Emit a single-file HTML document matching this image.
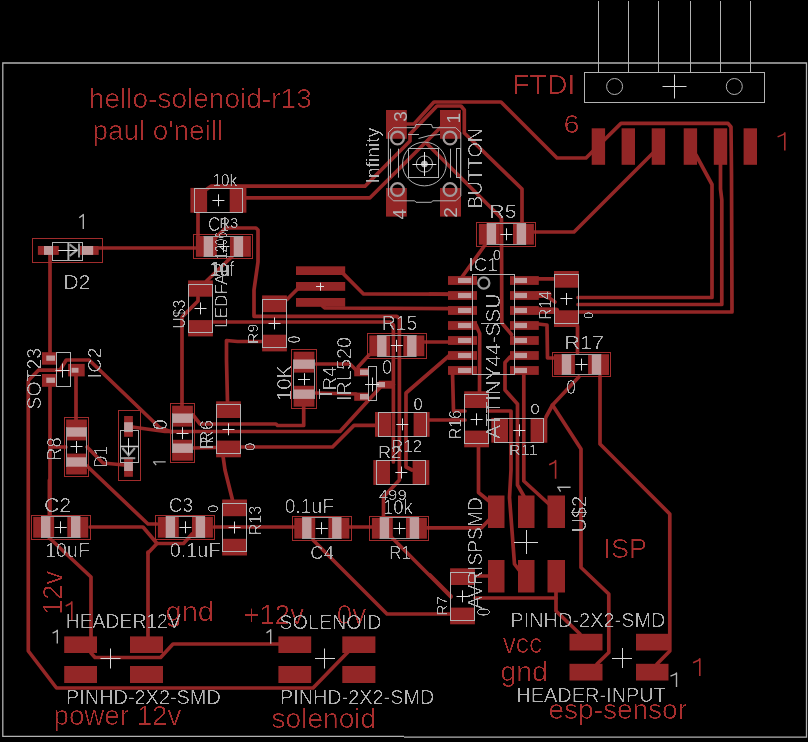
<!DOCTYPE html>
<html><head><meta charset="utf-8"><title>hello-solenoid-r13</title>
<style>
html,body{margin:0;padding:0;background:#000;}
body{width:808px;height:742px;overflow:hidden;}
svg{display:block;}
svg text{font-family:"Liberation Sans",sans-serif;}
</style></head><body>
<svg width="808" height="742" viewBox="0 0 808 742">
<defs>
<filter id="thinR" x="0" y="0" width="808" height="742" filterUnits="userSpaceOnUse" color-interpolation-filters="sRGB"><feGaussianBlur stdDeviation="0.6"/><feComponentTransfer><feFuncA type="linear" slope="5" intercept="-3.4"/></feComponentTransfer></filter>
<filter id="thinG" x="0" y="0" width="808" height="742" filterUnits="userSpaceOnUse" color-interpolation-filters="sRGB"><feGaussianBlur stdDeviation="0.5"/><feComponentTransfer><feFuncA type="linear" slope="5" intercept="-2.9"/></feComponentTransfer></filter>
<filter id="thinS" x="0" y="0" width="808" height="742" filterUnits="userSpaceOnUse" color-interpolation-filters="sRGB"><feGaussianBlur stdDeviation="0.45"/><feComponentTransfer><feFuncA type="linear" slope="4" intercept="-1.9"/></feComponentTransfer></filter>
</defs>
<rect width="808" height="742" fill="#000"/>
<path d="M50.0,250.0 L50.0,352.0" stroke="#932626" stroke-width="3.7" fill="none" stroke-linejoin="round" stroke-linecap="round"/>
<path d="M99.0,248.0 L196.0,248.0" stroke="#932626" stroke-width="3.7" fill="none" stroke-linejoin="round" stroke-linecap="round"/>
<path d="M50.0,387.0 L50.0,518.0" stroke="#932626" stroke-width="3.7" fill="none" stroke-linejoin="round" stroke-linecap="round"/>
<path d="M60.0,370.2 L38.4,370.2 L28.3,380.5 L28.3,651.0 L56.5,688.0 L313.0,688.0 L348.0,652.0" stroke="#932626" stroke-width="3.7" fill="none" stroke-linejoin="round" stroke-linecap="round"/>
<path d="M60.0,370.2 L66.2,360.0 L89.2,360.0 L160.0,428.0 L172.0,432.0" stroke="#932626" stroke-width="3.7" fill="none" stroke-linejoin="round" stroke-linecap="round"/>
<path d="M76.0,376.0 L76.0,420.0" stroke="#932626" stroke-width="3.7" fill="none" stroke-linejoin="round" stroke-linecap="round"/>
<path d="M50.0,447.0 L66.0,447.0" stroke="#932626" stroke-width="3.7" fill="none" stroke-linejoin="round" stroke-linecap="round"/>
<path d="M87.0,447.0 L103.0,463.0 L124.0,465.0" stroke="#932626" stroke-width="3.7" fill="none" stroke-linejoin="round" stroke-linecap="round"/>
<path d="M87.0,466.0 L148.0,524.0 L157.0,524.0" stroke="#932626" stroke-width="3.7" fill="none" stroke-linejoin="round" stroke-linecap="round"/>
<path d="M132.0,427.0 L165.0,431.5 L340.0,431.5 L380.5,387.0" stroke="#932626" stroke-width="3.7" fill="none" stroke-linejoin="round" stroke-linecap="round"/>
<path d="M198.0,297.0 L198.0,301.0 L182.0,317.0 L182.0,406.0" stroke="#932626" stroke-width="3.7" fill="none" stroke-linejoin="round" stroke-linecap="round"/>
<path d="M198.0,212.0 L198.0,236.0" stroke="#932626" stroke-width="3.7" fill="none" stroke-linejoin="round" stroke-linecap="round"/>
<path d="M216.5,237.0 L225.5,228.0 L256.0,228.0 L258.0,230.0 L258.0,262.0 L254.0,290.0 L254.0,316.3 L396.8,316.3 L399.4,319.0 L399.4,480.0 L383.5,497.0 L383.5,518.0" stroke="#932626" stroke-width="3.7" fill="none" stroke-linejoin="round" stroke-linecap="round"/>
<path d="M232.0,256.5 L206.5,281.0" stroke="#932626" stroke-width="3.7" fill="none" stroke-linejoin="round" stroke-linecap="round"/>
<path d="M213.0,322.0 L390.5,322.0 L393.4,325.0 L393.4,462.0" stroke="#932626" stroke-width="3.7" fill="none" stroke-linejoin="round" stroke-linecap="round"/>
<path d="M262.0,341.5 L237.5,341.5 L226.5,340.5 L226.5,360.0 L227.5,402.0" stroke="#932626" stroke-width="3.7" fill="none" stroke-linejoin="round" stroke-linecap="round"/>
<path d="M342.0,272.4 L363.5,294.0 L452.0,294.2" stroke="#932626" stroke-width="3.7" fill="none" stroke-linejoin="round" stroke-linecap="round"/>
<path d="M299.0,287.5 L287.0,299.5" stroke="#932626" stroke-width="3.7" fill="none" stroke-linejoin="round" stroke-linecap="round"/>
<path d="M322.5,306.0 L325.0,308.0 L452.0,308.6" stroke="#932626" stroke-width="3.7" fill="none" stroke-linejoin="round" stroke-linecap="round"/>
<path d="M316.0,364.0 L350.0,364.0 L356.0,370.0" stroke="#932626" stroke-width="3.7" fill="none" stroke-linejoin="round" stroke-linecap="round"/>
<path d="M316.0,393.0 L356.0,394.0" stroke="#932626" stroke-width="3.7" fill="none" stroke-linejoin="round" stroke-linecap="round"/>
<path d="M303.7,406.0 L303.7,425.5 L277.5,425.5 L276.0,424.0 L200.0,424.0 L193.0,415.0" stroke="#932626" stroke-width="3.7" fill="none" stroke-linejoin="round" stroke-linecap="round"/>
<path d="M193.0,448.0 L217.0,447.5" stroke="#932626" stroke-width="3.7" fill="none" stroke-linejoin="round" stroke-linecap="round"/>
<path d="M241.0,447.0 L332.5,447.0 L354.0,425.4 L376.0,425.4" stroke="#932626" stroke-width="3.7" fill="none" stroke-linejoin="round" stroke-linecap="round"/>
<path d="M223.0,456.0 L225.0,470.0 L232.5,500.0" stroke="#932626" stroke-width="3.7" fill="none" stroke-linejoin="round" stroke-linecap="round"/>
<path d="M358.0,367.0 L369.0,355.0" stroke="#932626" stroke-width="3.7" fill="none" stroke-linejoin="round" stroke-linecap="round"/>
<path d="M385.0,384.5 L393.4,384.5" stroke="#932626" stroke-width="3.7" fill="none" stroke-linejoin="round" stroke-linecap="round"/>
<path d="M450.0,355.0 L406.0,393.0 L406.0,467.0 L412.0,470.0" stroke="#932626" stroke-width="3.7" fill="none" stroke-linejoin="round" stroke-linecap="round"/>
<path d="M424.0,342.0 L452.0,342.0" stroke="#932626" stroke-width="3.7" fill="none" stroke-linejoin="round" stroke-linecap="round"/>
<path d="M428.0,420.0 L465.0,420.0" stroke="#932626" stroke-width="3.7" fill="none" stroke-linejoin="round" stroke-linecap="round"/>
<path d="M90.0,527.0 L143.0,527.0 L157.0,543.5 L183.5,543.5 L192.0,534.0" stroke="#932626" stroke-width="3.7" fill="none" stroke-linejoin="round" stroke-linecap="round"/>
<path d="M148.0,552.0 L148.0,640.0" stroke="#932626" stroke-width="3.7" fill="none" stroke-linejoin="round" stroke-linecap="round"/>
<path d="M157.0,543.5 L148.0,553.0" stroke="#932626" stroke-width="3.7" fill="none" stroke-linejoin="round" stroke-linecap="round"/>
<path d="M214.0,527.0 L295.0,527.0" stroke="#932626" stroke-width="3.7" fill="none" stroke-linejoin="round" stroke-linecap="round"/>
<path d="M349.0,527.0 L372.0,527.0" stroke="#932626" stroke-width="3.7" fill="none" stroke-linejoin="round" stroke-linecap="round"/>
<path d="M427.0,527.8 L481.5,527.8 L489.0,520.0" stroke="#932626" stroke-width="3.7" fill="none" stroke-linejoin="round" stroke-linecap="round"/>
<path d="M313.0,540.0 L387.0,614.0 L451.0,614.0" stroke="#932626" stroke-width="3.7" fill="none" stroke-linejoin="round" stroke-linecap="round"/>
<path d="M392.3,538.0 L451.0,597.0" stroke="#932626" stroke-width="3.7" fill="none" stroke-linejoin="round" stroke-linecap="round"/>
<path d="M49.4,480.0 L49.4,518.0" stroke="#932626" stroke-width="3.7" fill="none" stroke-linejoin="round" stroke-linecap="round"/>
<path d="M49.4,538.0 L91.0,577.0 L91.0,653.0 L95.0,657.5 L160.6,657.5 L173.0,644.0 L279.0,644.0" stroke="#932626" stroke-width="3.7" fill="none" stroke-linejoin="round" stroke-linecap="round"/>
<path d="M407.0,124.0 L414.0,124.0 L434.0,102.0 L501.0,102.0 L557.0,158.0 L586.0,158.0 L621.0,123.4 L728.0,123.4 L731.0,127.0 L731.5,175.0 L732.0,312.0 L578.0,312.0" stroke="#932626" stroke-width="3.7" fill="none" stroke-linejoin="round" stroke-linecap="round"/>
<path d="M207.0,189.0 L211.0,186.2 L365.0,186.2 L410.0,141.0 L410.0,134.0 L437.0,106.0 L461.0,106.0 L464.3,110.0 L464.3,133.0 L522.0,189.0 L522.0,225.0" stroke="#932626" stroke-width="3.7" fill="none" stroke-linejoin="round" stroke-linecap="round"/>
<path d="M246.0,197.8 L370.0,197.8 L440.0,128.0" stroke="#932626" stroke-width="3.7" fill="none" stroke-linejoin="round" stroke-linecap="round"/>
<path d="M425.7,142.5 L501.5,218.3 L501.8,323.0 L511.5,334.5" stroke="#932626" stroke-width="3.7" fill="none" stroke-linejoin="round" stroke-linecap="round"/>
<path d="M485.0,245.0 L462.0,277.0" stroke="#932626" stroke-width="3.7" fill="none" stroke-linejoin="round" stroke-linecap="round"/>
<path d="M532.0,232.0 L574.0,232.0 L653.0,153.0" stroke="#932626" stroke-width="3.7" fill="none" stroke-linejoin="round" stroke-linecap="round"/>
<path d="M696.0,155.0 L712.0,184.5 L712.0,297.5 L578.0,297.5" stroke="#932626" stroke-width="3.7" fill="none" stroke-linejoin="round" stroke-linecap="round"/>
<path d="M720.5,160.0 L720.5,189.0 L721.8,200.0 L721.8,304.5 L578.0,304.5" stroke="#932626" stroke-width="3.7" fill="none" stroke-linejoin="round" stroke-linecap="round"/>
<path d="M538.0,278.8 L556.0,278.8" stroke="#932626" stroke-width="3.7" fill="none" stroke-linejoin="round" stroke-linecap="round"/>
<path d="M538.0,295.0 L545.0,295.0 L555.0,302.0" stroke="#932626" stroke-width="3.7" fill="none" stroke-linejoin="round" stroke-linecap="round"/>
<path d="M538.0,294.6 L548.0,294.6" stroke="#932626" stroke-width="7" fill="none" stroke-linejoin="round" stroke-linecap="round"/>
<path d="M538.0,310.5 L556.0,310.8" stroke="#932626" stroke-width="6.5" fill="none" stroke-linejoin="round" stroke-linecap="round"/>
<path d="M538.0,324.0 L547.0,325.0 L547.5,358.0 L554.0,358.0" stroke="#932626" stroke-width="3.7" fill="none" stroke-linejoin="round" stroke-linecap="round"/>
<path d="M577.5,326.0 L577.5,353.0" stroke="#932626" stroke-width="3.7" fill="none" stroke-linejoin="round" stroke-linecap="round"/>
<path d="M578.8,377.0 L552.5,405.0 L546.0,417.0" stroke="#932626" stroke-width="3.7" fill="none" stroke-linejoin="round" stroke-linecap="round"/>
<path d="M552.5,405.0 L581.0,449.0 L581.0,567.5 L608.8,594.0 L608.8,652.5 L597.0,664.0" stroke="#932626" stroke-width="3.7" fill="none" stroke-linejoin="round" stroke-linecap="round"/>
<path d="M600.0,376.0 L600.0,444.0 L669.8,514.0 L669.8,651.0 L657.0,664.0" stroke="#932626" stroke-width="3.7" fill="none" stroke-linejoin="round" stroke-linecap="round"/>
<path d="M430.0,294.0 L452.0,294.5" stroke="#932626" stroke-width="3.7" fill="none" stroke-linejoin="round" stroke-linecap="round"/>
<path d="M452.5,372.0 L453.5,411.0 L465.0,411.0" stroke="#932626" stroke-width="3.7" fill="none" stroke-linejoin="round" stroke-linecap="round"/>
<path d="M476.0,325.0 L479.7,333.5 L479.5,393.0" stroke="#932626" stroke-width="3.7" fill="none" stroke-linejoin="round" stroke-linecap="round"/>
<path d="M510.0,357.0 L505.0,362.5 L505.0,390.0 L517.5,404.0 L517.5,485.0 L523.8,496.0" stroke="#932626" stroke-width="3.7" fill="none" stroke-linejoin="round" stroke-linecap="round"/>
<path d="M523.8,372.0 L523.8,481.0 L550.0,505.0" stroke="#932626" stroke-width="3.7" fill="none" stroke-linejoin="round" stroke-linecap="round"/>
<path d="M489.0,411.0 L511.0,411.0 L511.0,470.0 L509.5,497.5 L514.5,564.0 L519.0,570.0" stroke="#932626" stroke-width="3.7" fill="none" stroke-linejoin="round" stroke-linecap="round"/>
<path d="M478.5,446.0 L478.5,492.5 L489.0,501.0" stroke="#932626" stroke-width="3.7" fill="none" stroke-linejoin="round" stroke-linecap="round"/>
<path d="M475.0,576.0 L489.0,576.0" stroke="#932626" stroke-width="3.7" fill="none" stroke-linejoin="round" stroke-linecap="round"/>
<path d="M475.0,598.0 L556.0,598.0" stroke="#932626" stroke-width="3.7" fill="none" stroke-linejoin="round" stroke-linecap="round"/>
<path d="M556.0,590.0 L556.0,611.0 L580.0,634.0" stroke="#932626" stroke-width="3.7" fill="none" stroke-linejoin="round" stroke-linecap="round"/>
<path d="M430.0,575.0 L451.0,596.0" stroke="#932626" stroke-width="3.7" fill="none" stroke-linejoin="round" stroke-linecap="round"/>
<path d="M404,736.3 L2.8,736.3 L2.8,63 L806.5,63 L806.5,737.1 L404,737.1" fill="none" stroke="#b2b2b2" stroke-width="1.3"/>
<line x1="598.5" y1="1.0" x2="598.5" y2="72.0" stroke="#b2b2b2" stroke-width="1"/>
<rect x="591.7" y="128.3" width="13.4" height="36.5" fill="#932626"/>
<line x1="628.5" y1="1.0" x2="628.5" y2="72.0" stroke="#b2b2b2" stroke-width="1"/>
<rect x="621.6" y="128.3" width="13.4" height="36.5" fill="#932626"/>
<line x1="658.5" y1="1.0" x2="658.5" y2="72.0" stroke="#b2b2b2" stroke-width="1"/>
<rect x="651.7" y="128.3" width="13.4" height="36.5" fill="#932626"/>
<line x1="690.5" y1="1.0" x2="690.5" y2="72.0" stroke="#b2b2b2" stroke-width="1"/>
<rect x="683.7" y="128.3" width="13.4" height="36.5" fill="#932626"/>
<line x1="720.5" y1="1.0" x2="720.5" y2="72.0" stroke="#b2b2b2" stroke-width="1"/>
<rect x="713.8" y="128.3" width="13.4" height="36.5" fill="#932626"/>
<line x1="750.5" y1="1.0" x2="750.5" y2="72.0" stroke="#b2b2b2" stroke-width="1"/>
<rect x="743.6" y="128.3" width="13.4" height="36.5" fill="#932626"/>
<rect x="584.5" y="72.5" width="180.0" height="30.0" fill="none" stroke="#b2b2b2" stroke-width="1"/>
<circle cx="614.6" cy="86.5" r="8.0" fill="none" stroke="#b2b2b2" stroke-width="1"/>
<circle cx="734.3" cy="86.5" r="8.0" fill="none" stroke="#b2b2b2" stroke-width="1"/>
<line x1="662.5" y1="86.5" x2="686.5" y2="86.5" stroke="#d8d8d8" stroke-width="1"/>
<line x1="674.5" y1="74.5" x2="674.5" y2="98.5" stroke="#d8d8d8" stroke-width="1"/>
<rect x="37.9" y="246.0" width="20.9" height="8.9" fill="#932626"/>
<rect x="78.3" y="246.0" width="20.4" height="8.9" fill="#932626"/>
<rect x="44.0" y="246.0" width="8.0" height="8.9" fill="#bf9a9a"/>
<rect x="83.0" y="246.0" width="10.2" height="8.9" fill="#bf9a9a"/>
<rect x="32.5" y="238.5" width="70.0" height="24.0" fill="none" stroke="#a02c2c" stroke-width="1"/>
<rect x="52.5" y="242.5" width="30.0" height="18.0" fill="none" stroke="#b2b2b2" stroke-width="1"/>
<line x1="68.4" y1="242.1" x2="68.4" y2="261.0" stroke="#b2b2b2" stroke-width="2"/>
<path d="M69.6,244.4 L77,250.2 L69.6,256" fill="none" stroke="#9a9a9a" stroke-width="2.2"/>
<line x1="79.0" y1="243.5" x2="79.0" y2="257.5" stroke="#9a9a9a" stroke-width="2"/>
<line x1="58.2" y1="250.5" x2="77.0" y2="250.5" stroke="#e0e0e0" stroke-width="1"/>
<rect x="124.1" y="416.0" width="8.8" height="20.8" fill="#932626"/>
<rect x="124.1" y="457.0" width="8.8" height="19.8" fill="#932626"/>
<rect x="124.1" y="422.2" width="8.8" height="9.9" fill="#bf9a9a"/>
<rect x="124.1" y="462.5" width="8.8" height="8.5" fill="#bf9a9a"/>
<rect x="118.5" y="410.5" width="22.0" height="70.0" fill="none" stroke="#a02c2c" stroke-width="1"/>
<rect x="120.5" y="430.5" width="18.0" height="32.0" fill="none" stroke="#b2b2b2" stroke-width="1"/>
<line x1="120.2" y1="446.5" x2="138.7" y2="446.5" stroke="#c8c8c8" stroke-width="1.6"/>
<path d="M122.4,448 L128.6,455.4 L134.8,448" fill="none" stroke="#9a9a9a" stroke-width="2.2"/>
<line x1="120.8" y1="458.2" x2="135.3" y2="458.2" stroke="#9a9a9a" stroke-width="2"/>
<line x1="128.5" y1="438.2" x2="128.5" y2="454.6" stroke="#e0e0e0" stroke-width="1"/>
<rect x="42.0" y="352.2" width="14.6" height="12.5" fill="#932626"/>
<rect x="42.0" y="374.0" width="14.6" height="12.8" fill="#932626"/>
<rect x="68.1" y="363.9" width="16.6" height="12.5" fill="#932626"/>
<rect x="46.3" y="355.5" width="8.7" height="5.3" fill="#bf9a9a"/>
<rect x="46.3" y="377.6" width="8.7" height="5.3" fill="#bf9a9a"/>
<rect x="71.6" y="367.8" width="6.9" height="4.9" fill="#bf9a9a"/>
<rect x="56.5" y="352.5" width="14.0" height="34.0" fill="none" stroke="#b2b2b2" stroke-width="1"/>
<line x1="55.5" y1="370.5" x2="69.5" y2="370.5" stroke="#e0e0e0" stroke-width="1"/>
<line x1="62.5" y1="363.5" x2="62.5" y2="377.5" stroke="#e0e0e0" stroke-width="1"/>
<rect x="354.2" y="368.0" width="14.0" height="8.3" fill="#932626"/>
<rect x="354.2" y="392.6" width="14.0" height="8.2" fill="#932626"/>
<rect x="378.7" y="380.7" width="13.3" height="8.0" fill="#932626"/>
<rect x="360.0" y="369.5" width="8.0" height="5.5" fill="#bf9a9a"/>
<rect x="360.0" y="394.0" width="8.0" height="5.5" fill="#bf9a9a"/>
<rect x="377.0" y="382.0" width="8.0" height="5.3" fill="#bf9a9a"/>
<rect x="368.5" y="366.5" width="8.0" height="34.0" fill="none" stroke="#b2b2b2" stroke-width="1"/>
<line x1="365.0" y1="384.5" x2="379.0" y2="384.5" stroke="#e0e0e0" stroke-width="1"/>
<line x1="372.5" y1="377.5" x2="372.5" y2="391.5" stroke="#e0e0e0" stroke-width="1"/>
<rect x="66.1" y="419.5" width="20.8" height="20.9" fill="#932626"/>
<rect x="66.1" y="453.6" width="20.8" height="20.9" fill="#932626"/>
<rect x="66.1" y="427.3" width="20.8" height="9.4" fill="#bf9a9a"/>
<rect x="66.1" y="457.3" width="20.8" height="9.4" fill="#bf9a9a"/>
<line x1="66.5" y1="427.3" x2="66.5" y2="466.7" stroke="#9c9c9c" stroke-width="1"/>
<line x1="86.5" y1="427.3" x2="86.5" y2="466.7" stroke="#9c9c9c" stroke-width="1"/>
<rect x="64.5" y="417.5" width="24.0" height="59.0" fill="none" stroke="#a02c2c" stroke-width="1"/>
<line x1="70.5" y1="446.5" x2="82.5" y2="446.5" stroke="#e0e0e0" stroke-width="1"/>
<line x1="76.5" y1="441.0" x2="76.5" y2="453.0" stroke="#e0e0e0" stroke-width="1"/>
<rect x="293.6" y="351.7" width="20.8" height="20.9" fill="#932626"/>
<rect x="293.6" y="385.8" width="20.8" height="20.9" fill="#932626"/>
<rect x="293.6" y="359.5" width="20.8" height="9.4" fill="#bf9a9a"/>
<rect x="293.6" y="389.5" width="20.8" height="9.4" fill="#bf9a9a"/>
<line x1="293.5" y1="359.5" x2="293.5" y2="398.9" stroke="#9c9c9c" stroke-width="1"/>
<line x1="314.5" y1="359.5" x2="314.5" y2="398.9" stroke="#9c9c9c" stroke-width="1"/>
<rect x="291.5" y="349.5" width="25.0" height="59.0" fill="none" stroke="#a02c2c" stroke-width="1"/>
<line x1="298.0" y1="379.5" x2="310.0" y2="379.5" stroke="#e0e0e0" stroke-width="1"/>
<line x1="304.5" y1="373.2" x2="304.5" y2="385.2" stroke="#e0e0e0" stroke-width="1"/>
<rect x="172.1" y="405.7" width="20.8" height="20.9" fill="#932626"/>
<rect x="172.1" y="439.8" width="20.8" height="20.9" fill="#932626"/>
<rect x="172.1" y="413.5" width="20.8" height="9.4" fill="#bf9a9a"/>
<rect x="172.1" y="443.5" width="20.8" height="9.4" fill="#bf9a9a"/>
<line x1="172.5" y1="413.5" x2="172.5" y2="452.9" stroke="#9c9c9c" stroke-width="1"/>
<line x1="192.5" y1="413.5" x2="192.5" y2="452.9" stroke="#9c9c9c" stroke-width="1"/>
<rect x="170.5" y="403.5" width="24.0" height="59.0" fill="none" stroke="#a02c2c" stroke-width="1"/>
<line x1="176.5" y1="433.5" x2="188.5" y2="433.5" stroke="#e0e0e0" stroke-width="1"/>
<line x1="182.5" y1="427.2" x2="182.5" y2="439.2" stroke="#e0e0e0" stroke-width="1"/>
<rect x="478.9" y="223.9" width="20.9" height="20.8" fill="#932626"/>
<rect x="513.0" y="223.9" width="20.9" height="20.8" fill="#932626"/>
<rect x="486.7" y="223.9" width="9.4" height="20.8" fill="#bf9a9a"/>
<rect x="516.7" y="223.9" width="9.4" height="20.8" fill="#bf9a9a"/>
<line x1="486.7" y1="223.5" x2="526.1" y2="223.5" stroke="#9c9c9c" stroke-width="1"/>
<line x1="486.7" y1="244.5" x2="526.1" y2="244.5" stroke="#9c9c9c" stroke-width="1"/>
<rect x="476.5" y="222.5" width="59.0" height="24.0" fill="none" stroke="#a02c2c" stroke-width="1"/>
<line x1="500.4" y1="234.5" x2="512.4" y2="234.5" stroke="#e0e0e0" stroke-width="1"/>
<line x1="506.5" y1="228.3" x2="506.5" y2="240.3" stroke="#e0e0e0" stroke-width="1"/>
<rect x="554.0" y="354.2" width="20.9" height="20.8" fill="#932626"/>
<rect x="588.1" y="354.2" width="20.9" height="20.8" fill="#932626"/>
<rect x="561.8" y="354.2" width="9.4" height="20.8" fill="#bf9a9a"/>
<rect x="591.8" y="354.2" width="9.4" height="20.8" fill="#bf9a9a"/>
<line x1="561.8" y1="354.5" x2="601.2" y2="354.5" stroke="#9c9c9c" stroke-width="1"/>
<line x1="561.8" y1="374.5" x2="601.2" y2="374.5" stroke="#9c9c9c" stroke-width="1"/>
<rect x="552.5" y="352.5" width="58.0" height="24.0" fill="none" stroke="#a02c2c" stroke-width="1"/>
<line x1="575.5" y1="364.5" x2="587.5" y2="364.5" stroke="#e0e0e0" stroke-width="1"/>
<line x1="581.5" y1="358.6" x2="581.5" y2="370.6" stroke="#e0e0e0" stroke-width="1"/>
<rect x="369.3" y="335.4" width="20.9" height="20.8" fill="#932626"/>
<rect x="403.4" y="335.4" width="20.9" height="20.8" fill="#932626"/>
<rect x="377.1" y="335.4" width="9.4" height="20.8" fill="#bf9a9a"/>
<rect x="407.1" y="335.4" width="9.4" height="20.8" fill="#bf9a9a"/>
<line x1="377.1" y1="335.5" x2="416.5" y2="335.5" stroke="#9c9c9c" stroke-width="1"/>
<line x1="377.1" y1="356.5" x2="416.5" y2="356.5" stroke="#9c9c9c" stroke-width="1"/>
<rect x="367.5" y="333.5" width="59.0" height="25.0" fill="none" stroke="#a02c2c" stroke-width="1"/>
<line x1="390.8" y1="345.5" x2="402.8" y2="345.5" stroke="#e0e0e0" stroke-width="1"/>
<line x1="396.5" y1="339.8" x2="396.5" y2="351.8" stroke="#e0e0e0" stroke-width="1"/>
<rect x="195.9" y="236.0" width="20.9" height="20.8" fill="#932626"/>
<rect x="230.0" y="236.0" width="20.9" height="20.8" fill="#932626"/>
<rect x="203.7" y="236.0" width="9.4" height="20.8" fill="#bf9a9a"/>
<rect x="233.7" y="236.0" width="9.4" height="20.8" fill="#bf9a9a"/>
<line x1="203.7" y1="236.5" x2="243.1" y2="236.5" stroke="#9c9c9c" stroke-width="1"/>
<line x1="203.7" y1="256.5" x2="243.1" y2="256.5" stroke="#9c9c9c" stroke-width="1"/>
<rect x="193.5" y="234.5" width="59.0" height="24.0" fill="none" stroke="#a02c2c" stroke-width="1"/>
<line x1="217.4" y1="246.5" x2="229.4" y2="246.5" stroke="#e0e0e0" stroke-width="1"/>
<line x1="223.5" y1="240.4" x2="223.5" y2="252.4" stroke="#e0e0e0" stroke-width="1"/>
<rect x="33.2" y="516.9" width="20.9" height="20.8" fill="#932626"/>
<rect x="67.3" y="516.9" width="20.9" height="20.8" fill="#932626"/>
<rect x="41.0" y="516.9" width="9.4" height="20.8" fill="#bf9a9a"/>
<rect x="71.0" y="516.9" width="9.4" height="20.8" fill="#bf9a9a"/>
<line x1="41.0" y1="516.5" x2="80.4" y2="516.5" stroke="#9c9c9c" stroke-width="1"/>
<line x1="41.0" y1="537.5" x2="80.4" y2="537.5" stroke="#9c9c9c" stroke-width="1"/>
<rect x="31.5" y="515.5" width="59.0" height="24.0" fill="none" stroke="#a02c2c" stroke-width="1"/>
<line x1="54.7" y1="527.5" x2="66.7" y2="527.5" stroke="#e0e0e0" stroke-width="1"/>
<line x1="60.5" y1="521.3" x2="60.5" y2="533.3" stroke="#e0e0e0" stroke-width="1"/>
<rect x="157.9" y="516.9" width="20.9" height="20.8" fill="#932626"/>
<rect x="192.0" y="516.9" width="20.9" height="20.8" fill="#932626"/>
<rect x="165.7" y="516.9" width="9.4" height="20.8" fill="#bf9a9a"/>
<rect x="195.7" y="516.9" width="9.4" height="20.8" fill="#bf9a9a"/>
<line x1="165.7" y1="516.5" x2="205.1" y2="516.5" stroke="#9c9c9c" stroke-width="1"/>
<line x1="165.7" y1="537.5" x2="205.1" y2="537.5" stroke="#9c9c9c" stroke-width="1"/>
<rect x="155.5" y="515.5" width="59.0" height="24.0" fill="none" stroke="#a02c2c" stroke-width="1"/>
<line x1="179.4" y1="527.5" x2="191.4" y2="527.5" stroke="#e0e0e0" stroke-width="1"/>
<line x1="185.5" y1="521.3" x2="185.5" y2="533.3" stroke="#e0e0e0" stroke-width="1"/>
<rect x="294.3" y="517.8" width="20.9" height="20.8" fill="#932626"/>
<rect x="328.4" y="517.8" width="20.9" height="20.8" fill="#932626"/>
<rect x="302.1" y="517.8" width="9.4" height="20.8" fill="#bf9a9a"/>
<rect x="332.1" y="517.8" width="9.4" height="20.8" fill="#bf9a9a"/>
<line x1="302.1" y1="517.5" x2="341.5" y2="517.5" stroke="#9c9c9c" stroke-width="1"/>
<line x1="302.1" y1="538.5" x2="341.5" y2="538.5" stroke="#9c9c9c" stroke-width="1"/>
<rect x="292.5" y="516.5" width="59.0" height="24.0" fill="none" stroke="#a02c2c" stroke-width="1"/>
<line x1="315.8" y1="528.5" x2="327.8" y2="528.5" stroke="#e0e0e0" stroke-width="1"/>
<line x1="321.5" y1="522.2" x2="321.5" y2="534.2" stroke="#e0e0e0" stroke-width="1"/>
<rect x="371.9" y="517.9" width="20.9" height="20.8" fill="#932626"/>
<rect x="406.0" y="517.9" width="20.9" height="20.8" fill="#932626"/>
<rect x="379.7" y="517.9" width="9.4" height="20.8" fill="#bf9a9a"/>
<rect x="409.7" y="517.9" width="9.4" height="20.8" fill="#bf9a9a"/>
<line x1="379.7" y1="517.5" x2="419.1" y2="517.5" stroke="#9c9c9c" stroke-width="1"/>
<line x1="379.7" y1="538.5" x2="419.1" y2="538.5" stroke="#9c9c9c" stroke-width="1"/>
<rect x="369.5" y="516.5" width="59.0" height="24.0" fill="none" stroke="#a02c2c" stroke-width="1"/>
<line x1="393.4" y1="528.5" x2="405.4" y2="528.5" stroke="#e0e0e0" stroke-width="1"/>
<line x1="399.5" y1="522.3" x2="399.5" y2="534.3" stroke="#e0e0e0" stroke-width="1"/>
<rect x="190.4" y="187.9" width="16.7" height="24.8" fill="#932626"/>
<rect x="229.7" y="187.9" width="16.7" height="24.8" fill="#932626"/>
<rect x="194.5" y="188.5" width="48.0" height="24.0" fill="none" stroke="#b2b2b2" stroke-width="1"/>
<line x1="212.4" y1="200.5" x2="224.4" y2="200.5" stroke="#e0e0e0" stroke-width="1"/>
<line x1="218.5" y1="194.3" x2="218.5" y2="206.3" stroke="#e0e0e0" stroke-width="1"/>
<rect x="216.1" y="401.3" width="24.8" height="16.7" fill="#932626"/>
<rect x="216.1" y="440.6" width="24.8" height="16.7" fill="#932626"/>
<rect x="216.5" y="404.5" width="24.0" height="49.0" fill="none" stroke="#b2b2b2" stroke-width="1"/>
<line x1="222.5" y1="429.5" x2="234.5" y2="429.5" stroke="#e0e0e0" stroke-width="1"/>
<line x1="228.5" y1="423.3" x2="228.5" y2="435.3" stroke="#e0e0e0" stroke-width="1"/>
<rect x="262.1" y="295.4" width="24.8" height="16.7" fill="#932626"/>
<rect x="262.1" y="334.7" width="24.8" height="16.7" fill="#932626"/>
<rect x="262.5" y="299.5" width="24.0" height="48.0" fill="none" stroke="#b2b2b2" stroke-width="1"/>
<line x1="268.5" y1="323.5" x2="280.5" y2="323.5" stroke="#e0e0e0" stroke-width="1"/>
<line x1="274.5" y1="317.4" x2="274.5" y2="329.4" stroke="#e0e0e0" stroke-width="1"/>
<rect x="375.0" y="412.0" width="16.0" height="24.8" fill="#932626"/>
<rect x="413.6" y="412.0" width="16.0" height="24.8" fill="#932626"/>
<rect x="378.5" y="412.5" width="48.0" height="24.0" fill="none" stroke="#b2b2b2" stroke-width="1"/>
<line x1="396.3" y1="424.5" x2="408.3" y2="424.5" stroke="#e0e0e0" stroke-width="1"/>
<line x1="402.5" y1="418.4" x2="402.5" y2="430.4" stroke="#e0e0e0" stroke-width="1"/>
<rect x="373.3" y="460.1" width="16.7" height="24.8" fill="#932626"/>
<rect x="412.6" y="460.1" width="16.7" height="24.8" fill="#932626"/>
<rect x="376.5" y="460.5" width="49.0" height="24.0" fill="none" stroke="#b2b2b2" stroke-width="1"/>
<line x1="395.3" y1="472.5" x2="407.3" y2="472.5" stroke="#e0e0e0" stroke-width="1"/>
<line x1="401.5" y1="466.5" x2="401.5" y2="478.5" stroke="#e0e0e0" stroke-width="1"/>
<rect x="222.2" y="499.5" width="24.8" height="16.7" fill="#932626"/>
<rect x="222.2" y="538.8" width="24.8" height="16.7" fill="#932626"/>
<rect x="222.5" y="503.5" width="24.0" height="48.0" fill="none" stroke="#b2b2b2" stroke-width="1"/>
<line x1="228.6" y1="527.5" x2="240.6" y2="527.5" stroke="#e0e0e0" stroke-width="1"/>
<line x1="234.5" y1="521.5" x2="234.5" y2="533.5" stroke="#e0e0e0" stroke-width="1"/>
<rect x="554.0" y="271.0" width="24.8" height="16.7" fill="#932626"/>
<rect x="554.0" y="310.3" width="24.8" height="16.7" fill="#932626"/>
<rect x="554.5" y="274.5" width="24.0" height="49.0" fill="none" stroke="#b2b2b2" stroke-width="1"/>
<line x1="560.4" y1="298.5" x2="572.4" y2="298.5" stroke="#e0e0e0" stroke-width="1"/>
<line x1="566.5" y1="293.0" x2="566.5" y2="305.0" stroke="#e0e0e0" stroke-width="1"/>
<rect x="464.2" y="391.3" width="24.8" height="16.7" fill="#932626"/>
<rect x="464.2" y="430.6" width="24.8" height="16.7" fill="#932626"/>
<rect x="464.5" y="394.5" width="24.0" height="49.0" fill="none" stroke="#b2b2b2" stroke-width="1"/>
<line x1="470.6" y1="419.5" x2="482.6" y2="419.5" stroke="#e0e0e0" stroke-width="1"/>
<line x1="476.5" y1="413.3" x2="476.5" y2="425.3" stroke="#e0e0e0" stroke-width="1"/>
<rect x="491.3" y="417.9" width="16.7" height="24.8" fill="#932626"/>
<rect x="530.6" y="417.9" width="16.7" height="24.8" fill="#932626"/>
<rect x="494.5" y="418.5" width="49.0" height="24.0" fill="none" stroke="#b2b2b2" stroke-width="1"/>
<line x1="513.3" y1="430.5" x2="525.3" y2="430.5" stroke="#e0e0e0" stroke-width="1"/>
<line x1="519.5" y1="424.3" x2="519.5" y2="436.3" stroke="#e0e0e0" stroke-width="1"/>
<rect x="450.1" y="568.3" width="24.8" height="16.7" fill="#932626"/>
<rect x="450.1" y="607.6" width="24.8" height="16.7" fill="#932626"/>
<rect x="450.5" y="572.5" width="24.0" height="48.0" fill="none" stroke="#b2b2b2" stroke-width="1"/>
<line x1="456.5" y1="596.5" x2="468.5" y2="596.5" stroke="#e0e0e0" stroke-width="1"/>
<line x1="462.5" y1="590.3" x2="462.5" y2="602.3" stroke="#e0e0e0" stroke-width="1"/>
<rect x="188.1" y="280.4" width="24.8" height="16.3" fill="#932626"/>
<rect x="188.1" y="320.1" width="24.8" height="16.3" fill="#932626"/>
<rect x="188.5" y="284.5" width="24.0" height="48.0" fill="none" stroke="#b2b2b2" stroke-width="1"/>
<line x1="194.5" y1="308.5" x2="206.5" y2="308.5" stroke="#e0e0e0" stroke-width="1"/>
<line x1="200.5" y1="302.4" x2="200.5" y2="314.4" stroke="#e0e0e0" stroke-width="1"/>
<rect x="296.0" y="266.3" width="49.2" height="8.7" fill="#932626"/>
<rect x="296.0" y="282.0" width="49.2" height="8.8" fill="#932626"/>
<rect x="296.0" y="298.0" width="49.2" height="8.8" fill="#932626"/>
<line x1="316.0" y1="286.5" x2="324.0" y2="286.5" stroke="#e0e0e0" stroke-width="1"/>
<line x1="320.5" y1="282.7" x2="320.5" y2="290.7" stroke="#e0e0e0" stroke-width="1"/>
<rect x="386.0" y="110.0" width="20.8" height="28.8" fill="#932626"/>
<rect x="440.0" y="110.0" width="21.0" height="28.8" fill="#932626"/>
<rect x="386.0" y="188.0" width="20.8" height="28.6" fill="#932626"/>
<rect x="440.0" y="188.0" width="21.0" height="28.6" fill="#932626"/>
<rect x="448.0" y="276.1" width="29.0" height="8.8" fill="#932626"/>
<rect x="510.0" y="276.1" width="28.8" height="8.8" fill="#932626"/>
<rect x="458.0" y="277.9" width="13.3" height="5.2" fill="#bf9a9a"/>
<rect x="515.0" y="277.9" width="12.0" height="5.2" fill="#bf9a9a"/>
<rect x="448.0" y="291.1" width="29.0" height="8.8" fill="#932626"/>
<rect x="510.0" y="291.1" width="28.8" height="8.8" fill="#932626"/>
<rect x="458.0" y="292.9" width="13.3" height="5.2" fill="#bf9a9a"/>
<rect x="515.0" y="292.9" width="12.0" height="5.2" fill="#bf9a9a"/>
<rect x="448.0" y="306.1" width="29.0" height="8.8" fill="#932626"/>
<rect x="510.0" y="306.1" width="28.8" height="8.8" fill="#932626"/>
<rect x="458.0" y="307.9" width="13.3" height="5.2" fill="#bf9a9a"/>
<rect x="515.0" y="307.9" width="12.0" height="5.2" fill="#bf9a9a"/>
<rect x="448.0" y="321.1" width="29.0" height="8.8" fill="#932626"/>
<rect x="510.0" y="321.1" width="28.8" height="8.8" fill="#932626"/>
<rect x="458.0" y="322.9" width="13.3" height="5.2" fill="#bf9a9a"/>
<rect x="515.0" y="322.9" width="12.0" height="5.2" fill="#bf9a9a"/>
<rect x="448.0" y="336.1" width="29.0" height="8.8" fill="#932626"/>
<rect x="510.0" y="336.1" width="28.8" height="8.8" fill="#932626"/>
<rect x="458.0" y="337.9" width="13.3" height="5.2" fill="#bf9a9a"/>
<rect x="515.0" y="337.9" width="12.0" height="5.2" fill="#bf9a9a"/>
<rect x="448.0" y="351.1" width="29.0" height="8.8" fill="#932626"/>
<rect x="510.0" y="351.1" width="28.8" height="8.8" fill="#932626"/>
<rect x="458.0" y="352.9" width="13.3" height="5.2" fill="#bf9a9a"/>
<rect x="515.0" y="352.9" width="12.0" height="5.2" fill="#bf9a9a"/>
<rect x="448.0" y="366.1" width="29.0" height="8.8" fill="#932626"/>
<rect x="510.0" y="366.1" width="28.8" height="8.8" fill="#932626"/>
<rect x="458.0" y="367.9" width="13.3" height="5.2" fill="#bf9a9a"/>
<rect x="515.0" y="367.9" width="12.0" height="5.2" fill="#bf9a9a"/>
<rect x="472.5" y="274.5" width="42.0" height="100.0" fill="none" stroke="#b2b2b2" stroke-width="1"/>
<circle cx="483.8" cy="283.0" r="5.6" fill="none" stroke="#9c9c9c" stroke-width="2.2"/>
<line x1="481.0" y1="323.5" x2="504.0" y2="323.5" stroke="#b2b2b2" stroke-width="1"/>
<rect x="488.0" y="495.5" width="16.5" height="32.5" fill="#932626"/>
<rect x="488.0" y="560.0" width="16.5" height="32.5" fill="#932626"/>
<rect x="518.0" y="495.5" width="16.5" height="32.5" fill="#932626"/>
<rect x="518.0" y="560.0" width="16.5" height="32.5" fill="#932626"/>
<rect x="547.5" y="495.5" width="17.5" height="32.5" fill="#932626"/>
<rect x="547.5" y="560.0" width="17.5" height="32.5" fill="#932626"/>
<line x1="514.0" y1="542.5" x2="538.0" y2="542.5" stroke="#d8d8d8" stroke-width="1"/>
<line x1="526.5" y1="530.0" x2="526.5" y2="554.0" stroke="#d8d8d8" stroke-width="1"/>
<rect x="64.2" y="636.4" width="32.8" height="16.6" fill="#932626"/>
<rect x="64.2" y="666.0" width="32.8" height="17.0" fill="#932626"/>
<rect x="130.0" y="636.4" width="33.0" height="16.6" fill="#932626"/>
<rect x="130.0" y="666.0" width="33.0" height="17.0" fill="#932626"/>
<line x1="100.5" y1="658.5" x2="120.5" y2="658.5" stroke="#d8d8d8" stroke-width="1"/>
<line x1="110.5" y1="648.5" x2="110.5" y2="668.5" stroke="#d8d8d8" stroke-width="1"/>
<rect x="278.4" y="636.4" width="32.8" height="16.6" fill="#932626"/>
<rect x="278.4" y="666.0" width="32.8" height="17.0" fill="#932626"/>
<rect x="342.3" y="636.4" width="33.1" height="16.6" fill="#932626"/>
<rect x="342.3" y="666.0" width="33.1" height="17.0" fill="#932626"/>
<line x1="315.0" y1="658.5" x2="335.0" y2="658.5" stroke="#d8d8d8" stroke-width="1"/>
<line x1="324.5" y1="648.5" x2="324.5" y2="668.5" stroke="#d8d8d8" stroke-width="1"/>
<rect x="569.5" y="633.8" width="33.0" height="16.7" fill="#932626"/>
<rect x="569.5" y="663.8" width="33.0" height="16.7" fill="#932626"/>
<rect x="636.0" y="633.8" width="32.5" height="16.7" fill="#932626"/>
<rect x="636.0" y="663.8" width="32.5" height="16.7" fill="#932626"/>
<line x1="612.0" y1="658.5" x2="632.0" y2="658.5" stroke="#d8d8d8" stroke-width="1"/>
<line x1="622.5" y1="648.0" x2="622.5" y2="668.0" stroke="#d8d8d8" stroke-width="1"/>
<path d="M393.4,127.7 L414.7,127.7 L416,124.5 L431.5,124.5 L432.6,127.7 L455.8,127.7 L460.8,132.7 L460.8,195.8 L455.8,200.8 L432.6,200.8 L431.5,202.3 L416,202.3 L414.7,200.8 L393.4,200.8 L388.4,195.8 L388.4,132.7 Z" fill="none" stroke="#b2b2b2" stroke-width="1"/>
<circle cx="424.4" cy="164.0" r="21.9" fill="none" stroke="#b2b2b2" stroke-width="1"/>
<rect x="408.5" y="148.5" width="30.0" height="29.0" fill="none" stroke="#b2b2b2" stroke-width="1"/>
<circle cx="424.4" cy="164.0" r="8.1" fill="none" stroke="#b2b2b2" stroke-width="1"/>
<circle cx="424.4" cy="164.0" r="3.0" fill="#b2b2b2" stroke="#b2b2b2" stroke-width="1"/>
<line x1="412.4" y1="164.5" x2="436.4" y2="164.5" stroke="#e6e6e6" stroke-width="1"/>
<line x1="424.5" y1="152.0" x2="424.5" y2="176.0" stroke="#e6e6e6" stroke-width="1"/>
<circle cx="397.5" cy="138.0" r="6.4" fill="none" stroke="#a29a9a" stroke-width="2.3"/>
<circle cx="450.0" cy="138.0" r="6.4" fill="none" stroke="#a29a9a" stroke-width="2.3"/>
<circle cx="397.5" cy="189.5" r="6.4" fill="none" stroke="#a29a9a" stroke-width="2.3"/>
<circle cx="450.0" cy="189.5" r="6.4" fill="none" stroke="#a29a9a" stroke-width="2.3"/>
<line x1="390.5" y1="148.7" x2="390.5" y2="177.7" stroke="#b2b2b2" stroke-width="1"/>
<line x1="398.5" y1="148.7" x2="398.5" y2="177.7" stroke="#b2b2b2" stroke-width="1"/>
<line x1="450.5" y1="148.7" x2="450.5" y2="177.7" stroke="#b2b2b2" stroke-width="1"/>
<rect x="456.5" y="148.5" width="4.0" height="29.0" fill="none" stroke="#b2b2b2" stroke-width="1"/>
<line x1="408.0" y1="134.5" x2="419.0" y2="134.5" stroke="#b2b2b2" stroke-width="1"/>
<path d="M418.5,138.5 Q430,134.5 440,134.5" fill="none" stroke="#b2b2b2" stroke-width="1"/>
<g filter="url(#thinR)"><text x="88.82" y="107.80" font-size="27.3" fill="#a82e2e" textLength="222.94" lengthAdjust="spacingAndGlyphs">hello-solenoid-r13</text>
<text x="92.43" y="140.40" font-size="27.3" fill="#a82e2e" textLength="130.71" lengthAdjust="spacingAndGlyphs">paul o'neill</text>
<text x="512.20" y="94.00" font-size="27.8" fill="#a82e2e" textLength="63.32" lengthAdjust="spacingAndGlyphs">FTDI</text>
<text x="563.56" y="132.60" font-size="26.3" fill="#a82e2e" textLength="15.98" lengthAdjust="spacingAndGlyphs">6</text>
<text x="603.48" y="557.90" font-size="27.6" fill="#a82e2e" textLength="43.75" lengthAdjust="spacingAndGlyphs">ISP</text>
<text x="502.65" y="652.90" font-size="27.6" fill="#a82e2e" textLength="39.51" lengthAdjust="spacingAndGlyphs">vcc</text>
<text x="500.41" y="680.70" font-size="27.3" fill="#a82e2e" textLength="47.58" lengthAdjust="spacingAndGlyphs">gnd</text>
<text x="548.52" y="718.80" font-size="27.3" fill="#a82e2e" textLength="138.52" lengthAdjust="spacingAndGlyphs">esp-sensor</text>
<text x="61.70" y="614.84" font-size="27.3" fill="#a82e2e" textLength="43.84" lengthAdjust="spacingAndGlyphs" transform="rotate(-90 61.70 614.84)">12v</text>
<text x="165.48" y="621.10" font-size="27.3" fill="#a82e2e" textLength="48.52" lengthAdjust="spacingAndGlyphs">gnd</text>
<text x="243.54" y="623.80" font-size="27.3" fill="#a82e2e" textLength="60.35" lengthAdjust="spacingAndGlyphs">+12v</text>
<text x="336.83" y="623.80" font-size="27.3" fill="#a82e2e" textLength="29.36" lengthAdjust="spacingAndGlyphs">0v</text>
<text x="53.53" y="725.30" font-size="27.3" fill="#a82e2e" textLength="127.86" lengthAdjust="spacingAndGlyphs">power 12v</text>
<text x="271.55" y="727.70" font-size="27.3" fill="#a82e2e" textLength="104.62" lengthAdjust="spacingAndGlyphs">solenoid</text></g>
<g opacity="0.999"><path class="nt" d="M777.60,136.87 L783.60,134.38 L784.80,132.90 L784.80,150.40" fill="none" stroke="#a82e2e" stroke-width="1.6" stroke-linejoin="round"/>
<path class="nt" d="M549.20,464.79 L554.40,462.23 L555.60,460.70 L555.60,478.70" fill="none" stroke="#a82e2e" stroke-width="1.6" stroke-linejoin="round"/>
<path class="nt" d="M693.10,662.72 L698.60,660.26 L699.80,658.80 L699.80,676.10" fill="none" stroke="#a82e2e" stroke-width="1.6" stroke-linejoin="round"/>
<path class="nt" d="M65.70,606.02 L70.60,603.44 L71.80,601.90 L71.80,620.00" fill="none" stroke="#a82e2e" stroke-width="1.6" stroke-linejoin="round"/></g>
<g filter="url(#thinG)"><text x="63.58" y="288.90" font-size="19.7" fill="#b2b2b2" textLength="26.88" lengthAdjust="spacingAndGlyphs">D2</text>
<text x="41.40" y="409.55" font-size="19.8" fill="#b2b2b2" textLength="61.60" lengthAdjust="spacingAndGlyphs" transform="rotate(-90 41.40 409.55)">SOT23</text>
<text x="101.00" y="378.39" font-size="19.2" fill="#b2b2b2" textLength="31.14" lengthAdjust="spacingAndGlyphs" transform="rotate(-90 101.00 378.39)">IC2</text>
<text x="61.50" y="460.89" font-size="19.6" fill="#b2b2b2" textLength="23.65" lengthAdjust="spacingAndGlyphs" transform="rotate(-90 61.50 460.89)">R8</text>
<text x="106.60" y="467.77" font-size="18.5" fill="#b2b2b2" textLength="21.68" lengthAdjust="spacingAndGlyphs" transform="rotate(-90 106.60 467.77)">D1</text>
<text x="167.50" y="430.05" font-size="19.3" fill="#b2b2b2" textLength="10.72" lengthAdjust="spacingAndGlyphs" transform="rotate(-90 167.50 430.05)">0</text>
<text x="43.90" y="511.70" font-size="20.2" fill="#b2b2b2" textLength="27.19" lengthAdjust="spacingAndGlyphs">C2</text>
<text x="168.70" y="511.70" font-size="20.2" fill="#b2b2b2" textLength="24.46" lengthAdjust="spacingAndGlyphs">C3</text>
<text x="45.24" y="556.50" font-size="19.3" fill="#b2b2b2" textLength="44.60" lengthAdjust="spacingAndGlyphs">10uF</text>
<text x="169.65" y="556.50" font-size="19.3" fill="#b2b2b2" textLength="50.90" lengthAdjust="spacingAndGlyphs">0.1uF</text>
<text x="213.0" y="449.5" font-size="19" fill="#b2b2b2" text-anchor="start" transform="rotate(-90 213.0 449.5)">R</text>
<text x="213.0" y="444.0" font-size="19" fill="#b2b2b2" text-anchor="start" transform="rotate(-90 213.0 444.0)">R6</text>
<text x="290.60" y="400.99" font-size="19.5" fill="#b2b2b2" textLength="36.05" lengthAdjust="spacingAndGlyphs" transform="rotate(-90 290.60 400.99)">10K</text>
<text x="332.00" y="399.95" font-size="18.5" fill="#b2b2b2" textLength="11.61" lengthAdjust="spacingAndGlyphs" transform="rotate(-90 332.00 399.95)">T</text>
<text x="335.80" y="390.50" font-size="17.9" fill="#b2b2b2" textLength="24.00" lengthAdjust="spacingAndGlyphs" transform="rotate(-90 335.80 390.50)">R4</text>
<text x="351.20" y="400.94" font-size="20" fill="#b2b2b2" textLength="64.01" lengthAdjust="spacingAndGlyphs" transform="rotate(-90 351.20 400.94)">IRL520</text>
<text x="382.05" y="374.20" font-size="19.6" fill="#b2b2b2" textLength="10.20" lengthAdjust="spacingAndGlyphs">0</text>
<text x="381.66" y="329.60" font-size="19.6" fill="#b2b2b2" textLength="35.59" lengthAdjust="spacingAndGlyphs">R15</text>
<text x="382.90" y="513.70" font-size="19.5" fill="#b2b2b2" textLength="30.02" lengthAdjust="spacingAndGlyphs">10k</text>
<text x="388.94" y="558.70" font-size="19.2" fill="#b2b2b2" textLength="22.21" lengthAdjust="spacingAndGlyphs">R1</text>
<text x="310.35" y="558.70" font-size="19.2" fill="#b2b2b2" textLength="23.68" lengthAdjust="spacingAndGlyphs">C4</text>
<text x="284.65" y="513.40" font-size="19.3" fill="#b2b2b2" textLength="49.28" lengthAdjust="spacingAndGlyphs">0.1uF</text>
<text x="208.01" y="230.90" font-size="20" fill="#b2b2b2" textLength="21.44" lengthAdjust="spacingAndGlyphs">C1</text>
<text x="209.25" y="275.70" font-size="20" fill="#b2b2b2" textLength="25.00" lengthAdjust="spacingAndGlyphs">1uf</text>
<text x="211.30" y="275.70" font-size="20" fill="#b2b2b2" textLength="19.01" lengthAdjust="spacingAndGlyphs">1u</text>
<text x="489.50" y="218.00" font-size="18.4" fill="#b2b2b2" textLength="27.12" lengthAdjust="spacingAndGlyphs">R5</text>
<text x="468.54" y="270.70" font-size="18.5" fill="#b2b2b2" textLength="29.10" lengthAdjust="spacingAndGlyphs">IC1</text>
<text x="500.30" y="438.85" font-size="20.5" fill="#b2b2b2" textLength="145.22" lengthAdjust="spacingAndGlyphs" transform="rotate(-90 500.30 438.85)">ATTINY44-SSU</text>
<text x="564.44" y="348.80" font-size="17.8" fill="#b2b2b2" textLength="39.49" lengthAdjust="spacingAndGlyphs">R17</text>
<text x="566.15" y="394.30" font-size="19.5" fill="#b2b2b2" textLength="9.56" lengthAdjust="spacingAndGlyphs">0</text>
<text x="586.40" y="532.46" font-size="19.8" fill="#b2b2b2" textLength="36.62" lengthAdjust="spacingAndGlyphs" transform="rotate(-90 586.40 532.46)">U$2</text>
<text x="481.60" y="608.95" font-size="20.2" fill="#b2b2b2" textLength="111.75" lengthAdjust="spacingAndGlyphs" transform="rotate(-90 481.60 608.95)">AVRISPSMD</text>
<text x="489.60" y="616.35" font-size="19" fill="#b2b2b2" textLength="8.56" lengthAdjust="spacingAndGlyphs" transform="rotate(-90 489.60 616.35)">0</text>
<text x="510.33" y="627.40" font-size="19.6" fill="#b2b2b2" textLength="155.17" lengthAdjust="spacingAndGlyphs">PINHD-2X2-SMD</text>
<text x="66.03" y="703.70" font-size="19.6" fill="#b2b2b2" textLength="154.77" lengthAdjust="spacingAndGlyphs">PINHD-2X2-SMD</text>
<text x="279.94" y="703.80" font-size="19.6" fill="#b2b2b2" textLength="154.36" lengthAdjust="spacingAndGlyphs">PINHD-2X2-SMD</text>
<text x="516.32" y="702.10" font-size="19.4" fill="#b2b2b2" textLength="149.67" lengthAdjust="spacingAndGlyphs">HEADER-INPUT</text>
<text x="65.75" y="628.40" font-size="19.4" fill="#b2b2b2" textLength="115.03" lengthAdjust="spacingAndGlyphs">HEADER12V</text>
<text x="279.35" y="629.00" font-size="19.6" fill="#b2b2b2" textLength="102.15" lengthAdjust="spacingAndGlyphs">SOLENOID</text>
<text x="379.30" y="183.59" font-size="18.6" fill="#b2b2b2" textLength="56.01" lengthAdjust="spacingAndGlyphs" transform="rotate(-90 379.30 183.59)">Infinity</text>
<text x="482.10" y="208.76" font-size="19.5" fill="#b2b2b2" textLength="80.81" lengthAdjust="spacingAndGlyphs" transform="rotate(-90 482.10 208.76)">BUTTON</text></g>
<g filter="url(#thinS)"><text x="212.68" y="186.00" font-size="15.6" fill="#b2b2b2" textLength="24.48" lengthAdjust="spacingAndGlyphs">10k</text>
<text x="255.0" y="451.0" font-size="15" fill="#b2b2b2" text-anchor="start" transform="rotate(-90 255.0 451.0)">0</text>
<text x="413.45" y="409.80" font-size="16.3" fill="#b2b2b2" textLength="9.26" lengthAdjust="spacingAndGlyphs">0</text>
<text x="391.24" y="452.00" font-size="16.6" fill="#b2b2b2" textLength="30.84" lengthAdjust="spacingAndGlyphs">R12</text>
<text x="377.96" y="458.20" font-size="16.6" fill="#b2b2b2" textLength="23.14" lengthAdjust="spacingAndGlyphs">R2</text>
<text x="378.65" y="499.50" font-size="14.6" fill="#b2b2b2" textLength="28.13" lengthAdjust="spacingAndGlyphs">499</text>
<text x="261.30" y="535.37" font-size="15.8" fill="#b2b2b2" textLength="29.50" lengthAdjust="spacingAndGlyphs" transform="rotate(-90 261.30 535.37)">R13</text>
<text x="218.40" y="512.65" font-size="15" fill="#b2b2b2" textLength="8.03" lengthAdjust="spacingAndGlyphs" transform="rotate(-90 218.40 512.65)">0</text>
<text x="257.70" y="343.90" font-size="15" fill="#b2b2b2" textLength="20.11" lengthAdjust="spacingAndGlyphs" transform="rotate(-90 257.70 343.90)">R9</text>
<text x="300.20" y="343.15" font-size="15.6" fill="#b2b2b2" textLength="7.61" lengthAdjust="spacingAndGlyphs" transform="rotate(-90 300.20 343.15)">0</text>
<text x="185.00" y="328.84" font-size="16" fill="#b2b2b2" textLength="29.09" lengthAdjust="spacingAndGlyphs" transform="rotate(-90 185.00 328.84)">U$3</text>
<text x="227.00" y="328.09" font-size="16.6" fill="#b2b2b2" textLength="66.01" lengthAdjust="spacingAndGlyphs" transform="rotate(-90 227.00 328.09)">LEDFAB</text>
<text x="219.17" y="227.80" font-size="15.3" fill="#b2b2b2" textLength="19.18" lengthAdjust="spacingAndGlyphs">R3</text>
<text x="227.30" y="259.02" font-size="16" fill="#b2b2b2" textLength="27.29" lengthAdjust="spacingAndGlyphs" transform="rotate(-90 227.30 259.02)">1206</text>
<text x="492.65" y="260.20" font-size="15" fill="#b2b2b2" textLength="8.24" lengthAdjust="spacingAndGlyphs">0</text>
<text x="551.10" y="319.62" font-size="16" fill="#b2b2b2" textLength="28.47" lengthAdjust="spacingAndGlyphs" transform="rotate(-90 551.10 319.62)">R14</text>
<text x="592.5" y="319.0" font-size="13" fill="#b2b2b2" text-anchor="start" transform="rotate(-90 592.5 319.0)">0</text>
<text x="530.35" y="413.60" font-size="15.4" fill="#b2b2b2" textLength="9.63" lengthAdjust="spacingAndGlyphs">0</text>
<text x="460.70" y="439.35" font-size="16" fill="#b2b2b2" textLength="29.30" lengthAdjust="spacingAndGlyphs" transform="rotate(-90 460.70 439.35)">R16</text>
<text x="509.05" y="455.00" font-size="14.7" fill="#b2b2b2" textLength="28.49" lengthAdjust="spacingAndGlyphs">R11</text>
<text x="447.20" y="615.63" font-size="15.5" fill="#b2b2b2" textLength="19.49" lengthAdjust="spacingAndGlyphs" transform="rotate(-90 447.20 615.63)">R7</text></g>
<g opacity="0.999"><path class="nt" d="M79.20,217.73 L82.10,215.67 L83.30,214.50 L83.30,228.90" fill="none" stroke="#b2b2b2" stroke-width="1.4" stroke-linejoin="round"/>
<path class="nt" d="M156.20,465.20 L154.45,463.15 L153.50,461.95 L165.70,461.95" fill="none" stroke="#b2b2b2" stroke-width="1.3" stroke-linejoin="round"/>
<path class="nt" d="M560.57,491.60 L558.72,488.45 L557.70,487.25 L570.60,487.25" fill="none" stroke="#b2b2b2" stroke-width="1.3" stroke-linejoin="round"/>
<path class="nt" d="M670.50,676.21 L675.30,674.22 L676.50,673.10 L676.50,687.00" fill="none" stroke="#b2b2b2" stroke-width="1.4" stroke-linejoin="round"/>
<path class="nt" d="M52.60,633.24 L56.10,631.35 L57.30,630.30 L57.30,643.50" fill="none" stroke="#b2b2b2" stroke-width="1.4" stroke-linejoin="round"/>
<path class="nt" d="M266.50,632.93 L269.50,630.93 L270.70,629.80 L270.70,643.80" fill="none" stroke="#b2b2b2" stroke-width="1.4" stroke-linejoin="round"/>
<text x="406.8" y="121.8" font-size="19" fill="#b2b2b2" text-anchor="start" transform="rotate(-90 406.8 121.8)" class="nt">3</text>
<text x="459.5" y="123.5" font-size="19" fill="#b2b2b2" text-anchor="start" transform="rotate(-90 459.5 123.5)" class="nt">1</text>
<text x="406.0" y="219.5" font-size="19" fill="#b2b2b2" text-anchor="start" transform="rotate(-90 406.0 219.5)" class="nt">4</text>
<text x="457.5" y="217.8" font-size="19" fill="#b2b2b2" text-anchor="start" transform="rotate(-90 457.5 217.8)" class="nt">2</text></g>
</svg>
</body></html>
